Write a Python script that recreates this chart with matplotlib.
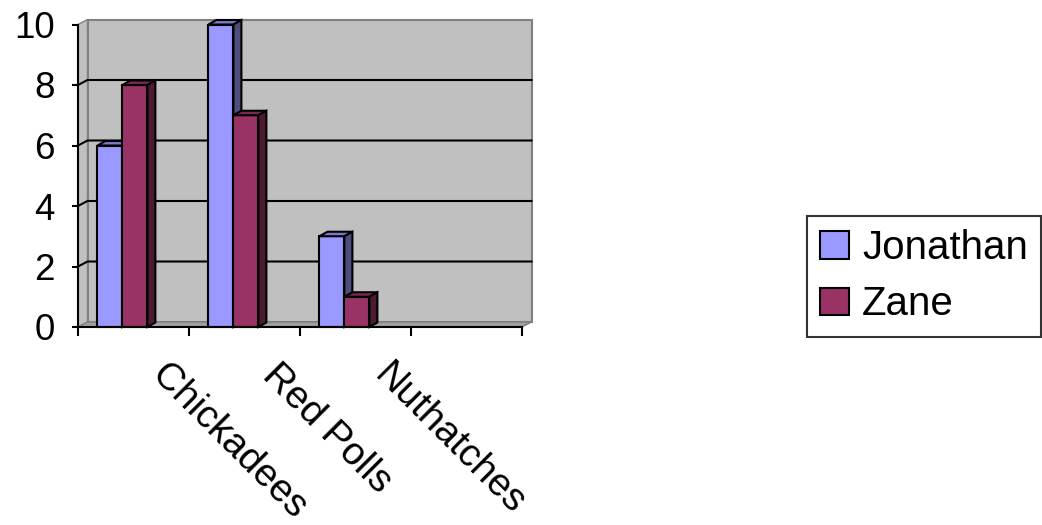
import numpy as np
import matplotlib
matplotlib.use("Agg")
import matplotlib.pyplot as plt
from matplotlib.patches import Polygon, Patch
from matplotlib.transforms import IdentityTransform

plt.rcParams['font.family'] = ['Liberation Sans', 'DejaVu Sans']

# --- data -------------------------------------------------------------
categories = ["Chickadees", "Red Polls", "Nuthatches", ""]
jonathan = [6, 10, 3, np.nan]
zane = [8, 7, 1, np.nan]
series_names = ["Jonathan", "Zane"]
y_ticks = [0, 2, 4, 6, 8, 10]

# --- styling ----------------------------------------------------------
front_colors = ["#9999FF", "#993366"]
top_colors = ["#7A7ACC", "#7A2952"]
side_colors = ["#4D4D80", "#4D1A33"]
wall_color = "#C0C0C0"
wall_edge = "#808080"
floor_color = "#A0A0A0"
WALL_DX, WALL_DY = 9.5, 5.0   # depth offset of the back wall (pixels)
BAR_DX, BAR_DY = 8.0, 4.5     # depth offset of the bar caps (pixels)
BAR_W = 0.225
BAR_START = 0.175

W, H = 1042, 525
fig = plt.figure(figsize=(W / 100, H / 100), dpi=100)
ax = fig.add_axes([78 / W, 1 - 327 / H, 444 / W, 302.5 / H])
ax.set_xlim(0, len(categories))
ax.set_ylim(0, 10)
ax.patch.set_visible(False)
for s in ("top", "right"):
    ax.spines[s].set_visible(False)
for s in ("left", "bottom"):
    ax.spines[s].set_linewidth(1.5)
    ax.spines[s].set_zorder(5)

ident = IdentityTransform()


def disp(x, y, dx=0.0, dy=0.0):
    px, py = ax.transData.transform((x, y))
    return (px + dx, py + dy)


def poly(points, fc, ec, lw, z):
    ax.add_patch(Polygon(points, closed=True, facecolor=fc, edgecolor=ec,
                         linewidth=lw, transform=ident, clip_on=False,
                         zorder=z, joinstyle="miter"))


xmax = len(categories)
ymax = y_ticks[-1]

# back wall
poly([disp(0, 0, WALL_DX, WALL_DY), disp(xmax, 0, WALL_DX, WALL_DY),
      disp(xmax, ymax, WALL_DX, WALL_DY), disp(0, ymax, WALL_DX, WALL_DY)],
     wall_color, wall_edge, 1.5, 0.5)
# left side wall
poly([disp(0, 0), disp(0, 0, WALL_DX, WALL_DY),
      disp(0, ymax, WALL_DX, WALL_DY), disp(0, ymax)],
     wall_color, wall_edge, 1.0, 0.55)
# floor
poly([disp(0, 0), disp(xmax, 0), disp(xmax, 0, WALL_DX, WALL_DY),
      disp(0, 0, WALL_DX, WALL_DY)],
     floor_color, wall_edge, 1.0, 0.6)

# gridlines on side wall and back wall
for v in y_ticks[1:-1]:
    pts = np.array([disp(0, v), disp(0, v, WALL_DX, WALL_DY),
                    disp(xmax, v, WALL_DX, WALL_DY)])
    ax.plot(pts[:, 0], pts[:, 1], color="black", lw=1.5, transform=ident,
            clip_on=False, zorder=0.8, solid_joinstyle="miter")

# bars
z = 2.0
for i in range(len(categories)):
    for k, vals in enumerate([jonathan, zane]):
        v = vals[i]
        if np.isnan(v):
            continue
        x0 = i + BAR_START + k * BAR_W
        ax.bar(x0, v, width=BAR_W, align="edge", color=front_colors[k],
               edgecolor="black", linewidth=1.5, zorder=z, clip_on=False)
        poly([disp(x0, v), disp(x0 + BAR_W, v),
              disp(x0 + BAR_W, v, BAR_DX, BAR_DY), disp(x0, v, BAR_DX, BAR_DY)],
             top_colors[k], "black", 1.5, z + 0.01)
        poly([disp(x0 + BAR_W, 0), disp(x0 + BAR_W, 0, BAR_DX, BAR_DY),
              disp(x0 + BAR_W, v, BAR_DX, BAR_DY), disp(x0 + BAR_W, v)],
             side_colors[k], "black", 1.5, z + 0.01)
        z += 0.05

# axis ticks
ax.set_yticks(y_ticks)
ax.set_yticklabels([str(t) for t in y_ticks])
ax.tick_params(axis="y", direction="out", length=4.3, width=1.5,
               pad=12.5, labelsize=26.5)
ax.set_xticks(range(len(categories) + 1))
ax.set_xticklabels([])
ax.tick_params(axis="x", direction="out", length=6.5, width=1.5)

# rotated category labels
for i, cat in enumerate(categories):
    if not cat:
        continue
    ax.annotate(cat, xy=(i + 0.5, 0), xytext=(24, -43),
                textcoords="offset pixels", rotation=-45,
                rotation_mode="anchor", ha="left", va="center",
                fontsize=28, annotation_clip=False)

# legend
handles = [Patch(facecolor=front_colors[k], edgecolor="black", linewidth=1.5)
           for k in range(len(series_names))]
leg = fig.legend(handles, series_names, loc="upper left",
                 bbox_to_anchor=(807 / W, 1 - 216 / H), fontsize=29,
                 frameon=True, fancybox=False, shadow=False,
                 handlelength=0.72, handleheight=0.67, handletextpad=0.32,
                 borderpad=0.33, labelspacing=0.45, borderaxespad=0)
leg.get_frame().set_edgecolor("black")
leg.get_frame().set_linewidth(1.5)

fig.savefig("out.png", dpi=100)
